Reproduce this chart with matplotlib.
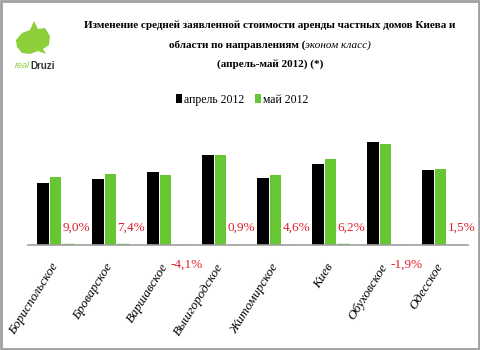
import matplotlib
matplotlib.use('Agg')
import matplotlib.pyplot as plt
import numpy as np
from matplotlib.patches import Rectangle, Polygon

# data (rent, units)
regions = ['Бориспольское', 'Броварское', 'Варшавское', 'Вышгородское',
           'Житомирское', 'Киев', 'Обуховское', 'Одесское']
april = [620, 657, 730, 897, 670, 813, 1030, 750]
may = [676, 706, 700, 905, 701, 863, 1010, 761]
change = [9.0, 7.4, -4.1, 0.9, 4.6, 6.2, -1.9, 1.5]
change_labels = ['9,0%', '7,4%', '-4,1%', '0,9%', '4,6%', '6,2%', '-1,9%', '1,5%']

black = '#000000'
green = '#66c733'
red = '#e0202a'

plt.rcParams['font.family'] = ['Liberation Serif', 'DejaVu Serif']

fig = plt.figure(figsize=(4.8, 3.5), dpi=100)
fig.patch.set_facecolor('white')

# outer border
fig.patches.append(Rectangle((0.002, 0.003), 0.995, 0.994, transform=fig.transFigure,
                             fill=False, edgecolor='#a0a0a0', linewidth=2))

ax = fig.add_axes([28 / 480, 105 / 350, 440 / 480, 125 / 350])
x = np.arange(len(regions))
w = 0.21
ax.bar(x - 0.225, april, w, color=black, label='апрель 2012')
ax.bar(x, may, w, color=green, label='май 2012')
ax.bar(x + 0.225, change, w, color=green, edgecolor=green, linewidth=1.0)

for xi, v, lab in zip(x, change, change_labels):
    if v >= 0:
        ax.annotate(lab, (xi + 0.225, 0), xytext=(6, 8), textcoords='offset points',
                    ha='center', va='bottom', color=red, fontsize=9.5)
    else:
        ax.annotate(lab, (xi + 0.225, 0), xytext=(6, -14), textcoords='offset points',
                    ha='center', va='center', color=red, fontsize=9.5)

ax.set_xlim(-0.5, len(regions) - 0.5)
ax.set_ylim(0, 1250)
ax.set_yticks([])
ax.set_xticks(x)
ax.set_xticklabels(regions, rotation=58, ha='right', va='center',
                   rotation_mode='anchor', fontstyle='italic', fontsize=9.5)
ax.tick_params(axis='x', length=0, pad=14)
for s in ['top', 'right', 'left']:
    ax.spines[s].set_visible(False)
ax.spines['bottom'].set_color('#a0a0a0')
ax.spines['bottom'].set_linewidth(1.2)
ax.patch.set_alpha(0)

# title
fig.text(270 / 480, 1 - 25 / 350,
         'Изменение средней заявленной стоимости аренды частных домов Киева и',
         ha='center', va='center', fontsize=8, fontweight='bold')
t1 = fig.text(0, 1 - 45 / 350, 'области по направлениям (', ha='left', va='center',
              fontsize=8, fontweight='bold')
t2 = fig.text(0, 1 - 45 / 350, 'эконом класс)', ha='left', va='center',
              fontsize=8, fontstyle='italic')
fig.canvas.draw()
r = fig.canvas.get_renderer()
w1 = t1.get_window_extent(r).width
w2 = t2.get_window_extent(r).width
start = 270 - (w1 + w2) / 2
t1.set_x(start / 480)
t2.set_x((start + w1) / 480)
fig.text(270 / 480, 1 - 64 / 350, '(апрель-май 2012) (*)',
         ha='center', va='center', fontsize=8, fontweight='bold')

# legend
fig.legend(loc='center', bbox_to_anchor=(242 / 480, 1 - 100 / 350), ncol=2,
           frameon=False, fontsize=8.5, handlelength=0.55, handleheight=0.8,
           handletextpad=0.15, columnspacing=0.9)

# logo
logo = Polygon([[16, 40], [22, 33], [30, 30], [34, 21], [38, 29], [45, 28],
                [50, 36], [49, 45], [43, 49], [46, 54], [38, 51], [30, 54],
                [22, 53], [17, 47]], closed=True, facecolor='#8ccf3a',
               edgecolor='none')
logo.set_xy([[px / 480, 1 - py / 350] for px, py in logo.get_xy()])
logo.set_transform(fig.transFigure)
fig.patches.append(logo)
fig.text(15 / 480, 1 - 66 / 350, 'real', color='#8ccf3a', fontstyle='italic',
         fontsize=6.5, family='Liberation Sans', ha='left', va='center')
fig.text(30 / 480, 1 - 66 / 350, 'Druzi', color='#333333', fontweight='bold',
         fontsize=7, family='Liberation Sans', ha='left', va='center')

fig.savefig('out.png', dpi=100)
